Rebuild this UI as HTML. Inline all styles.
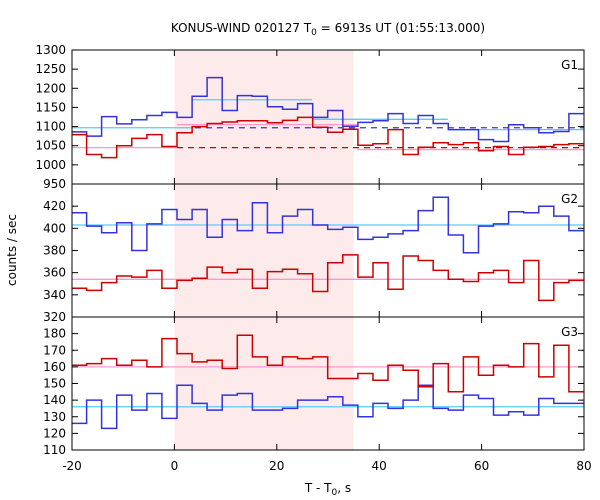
<!DOCTYPE html>
<html><head><meta charset="utf-8"><style>
body{margin:0;background:#fff}
svg{display:block;font-family:"DejaVu Sans",sans-serif}
</style></head><body>
<svg id="chart" width="600" height="500" xmlns="http://www.w3.org/2000/svg"></svg>
<script>
const binStart = -20.1;
const binWidth = 2.944;
const xTicks = [-20, 0, 20, 40, 60, 80];
const shadeRange = [0, 35];

const g1Blue = [1086,1075,1126,1107,1118,1129,1137,1124,1179,1228,1142,1181,1179,1152,1145,1160,1124,1142,1101,1111,1115,1134,1108,1129,1108,1092,1092,1066,1061,1105,1097,1084,1087,1134];
const g1Red = [1079,1027,1019,1050,1069,1079,1048,1084,1100,1108,1112,1115,1115,1110,1116,1124,1098,1085,1093,1051,1055,1092,1027,1046,1058,1053,1058,1037,1048,1027,1046,1048,1053,1055];
const g2Blue = [414,402,396,405,380,404,417,408,417,392,408,398,423,396,411,417,403,399,401,390,392,395,398,416,428,394,378,402,404,415,414,420,411,398];
const g2Red = [346,344,351,357,356,362,346,353,355,365,360,363,346,361,363,359,343,369,376,356,369,345,375,371,362,354,352,360,362,351,371,335,351,353];
const g3Blue = [126,140,123,143,134,144,129,149,138,134,143,144,134,134,135,140,140,142,137,130,138,135,140,149,135,134,143,141,131,133,131,141,138,138];
const g3Red = [161,162,165,161,164,160,177,168,163,164,159,179,166,161,166,165,166,153,153,156,152,161,158,148,162,145,166,155,161,160,174,154,173,145];

const g1Cyan = [[-20,3.5,1097],[3.5,26.9,1170],[26.9,53.4,1119],[53.4,80,1092]];
const g1Pink = [[-20,0.5,1045],[0.5,35.7,1105],[35.7,80,1040]];
const g1BlueDash = [[4,80,1097]];
const g1RedDash = [[0.5,80,1045]];
const g2Cyan = [[-20,80,403]];
const g2Pink = [[-20,80,354]];
const g3Cyan = [[-20,80,136]];
const g3Pink = [[-20,80,160]];

const g1Ticks = [950,1000,1050,1100,1150,1200,1250,1300];
const g2Ticks = [320,340,360,380,400,420];
const g3Ticks = [110,120,130,140,150,160,170,180];

const L=72, R=584;
const xs = v => L + (v + 20) / 100 * (R - L);
const svg = document.getElementById('chart');
const NS = 'http://www.w3.org/2000/svg';
function mk(tag, attrs, parent){const e=document.createElementNS(NS,tag);for(const k in attrs)e.setAttribute(k,attrs[k]);(parent||svg).appendChild(e);return e;}

const panels = [
 {name:'g1',top:50,bot:184,min:950,max:1300,ticks:g1Ticks,blue:g1Blue,red:g1Red,cyan:g1Cyan,pink:g1Pink,bd:g1BlueDash,rd:g1RedDash,label:'G1'},
 {name:'g2',top:184,bot:317,min:320,max:440,ticks:g2Ticks,blue:g2Blue,red:g2Red,cyan:g2Cyan,pink:g2Pink,label:'G2'},
 {name:'g3',top:317,bot:450,min:110,max:190,ticks:g3Ticks,blue:g3Blue,red:g3Red,cyan:g3Cyan,pink:g3Pink,label:'G3'}
];

const sh = mk('rect',{x:xs(shadeRange[0]),y:50,width:xs(shadeRange[1])-xs(shadeRange[0]),height:400,fill:'#fdeaea'});



panels.forEach(p=>{
  const ys = v => p.bot - (v - p.min)/(p.max - p.min)*(p.bot - p.top);
  const g = mk('g',{});
  
  
  function level(arr,color,name,dash){
    arr.forEach(s=>{
      const l = mk('line',{x1:xs(s[0]),x2:xs(s[1]),y1:ys(s[2]),y2:ys(s[2]),stroke:color,'stroke-width':1.3},g);
      if(dash) l.setAttribute('stroke-dasharray','6,5');
      
      
    });
  }
  level(p.cyan,'#55ccff',p.name+'-blue-background-fit');
  level(p.pink,'#ff99cc',p.name+'-red-background-fit');
  if(p.bd) level(p.bd,'#3333dd',p.name+'-blue-dashed-level',true);
  if(p.rd) level(p.rd,'#cc0000',p.name+'-red-dashed-level',true);
  function hist(arr,color,name){
    let d='';
    arr.forEach((v,i)=>{
      const x0=Math.max(xs(binStart+i*binWidth),L), x1=Math.min(xs(binStart+(i+1)*binWidth),R), y=ys(v);
      d += (i===0?'M':'L')+x0.toFixed(1)+','+y.toFixed(1)+'L'+x1.toFixed(1)+','+y.toFixed(1);
    });
    const pth = mk('path',{d:d,fill:'none',stroke:color,'stroke-width':1.5},g);
    
    
  }
  hist(p.blue,'#3333dd',p.name+'-blue-histogram');
  hist(p.red,'#cc0000',p.name+'-red-histogram');
  const fr = mk('rect',{x:L,y:p.top,width:R-L,height:p.bot-p.top,fill:'none',stroke:'#000','stroke-width':1},g);
  
  
  p.ticks.forEach((t,i)=>{
    const y=ys(t);
    mk('line',{x1:L,x2:L+6,y1:y,y2:y,stroke:'#000'},g);
    mk('line',{x1:R,x2:R-6,y1:y,y2:y,stroke:'#000'},g);
    const tx = mk('text',{x:L-6,y:y+4,'text-anchor':'end','font-size':12,fill:'#000'},g);
    tx.textContent=t;
    
    
  });
  xTicks.forEach(t=>{
    const x=xs(t);
    mk('line',{x1:x,x2:x,y1:p.top,y2:p.top+6,stroke:'#000'},g);
    mk('line',{x1:x,x2:x,y1:p.bot,y2:p.bot-6,stroke:'#000'},g);
  });
  const lb = mk('text',{x:578,y:p.top+19,'text-anchor':'end','font-size':12,fill:'#000'},g);
  lb.textContent=p.label;
  
  
});

xTicks.forEach(t=>{
  const tx = mk('text',{x:xs(t),y:470,'text-anchor':'middle','font-size':12,fill:'#000'});
  tx.textContent=t;
  
  
});
</script>
<svg width="600" height="500" style="position:absolute;left:0;top:0" xmlns="http://www.w3.org/2000/svg">
<text x="328" y="32" text-anchor="middle" font-size="12" font-family="DejaVu Sans, sans-serif">KONUS-WIND 020127 T<tspan font-size="9" dy="3">0</tspan><tspan dy="-3"> = 6913s UT (01:55:13.000)</tspan></text>
<text x="16" y="250" text-anchor="middle" font-size="12" font-family="DejaVu Sans, sans-serif" transform="rotate(-90 16 250)">counts / sec</text>
<text x="328" y="492" text-anchor="middle" font-size="12" font-family="DejaVu Sans, sans-serif">T - T<tspan font-size="9" dy="3">0</tspan><tspan dy="-3">, s</tspan></text>
</svg>
</body></html>
